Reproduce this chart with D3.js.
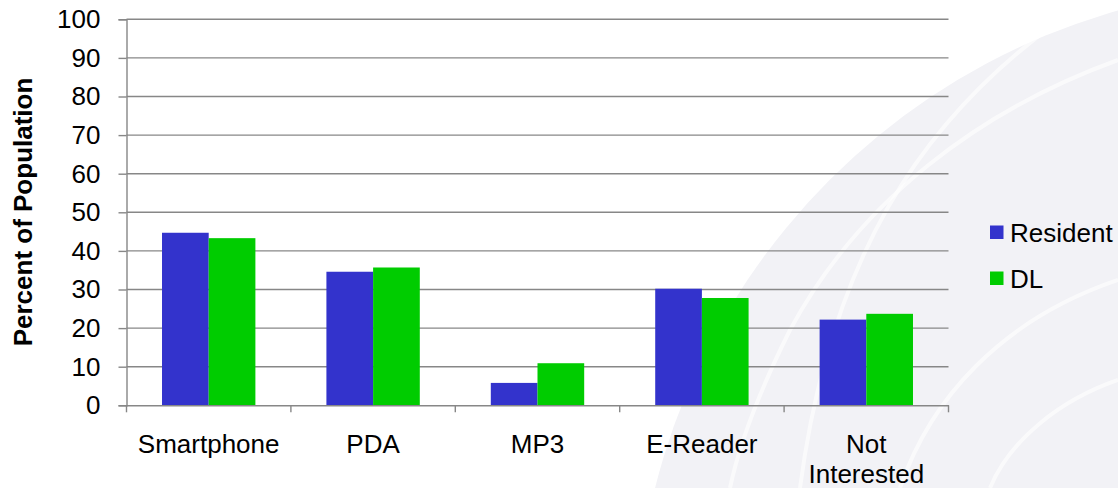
<!DOCTYPE html>
<html><head><meta charset="utf-8">
<script src="https://cdn.jsdelivr.net/npm/d3@7"></script>
<style>
html,body{margin:0;padding:0;background:#fff;}
svg{display:block;font-family:"Liberation Sans",Arial,sans-serif;}
</style></head>
<body>
<svg id="chart" width="1118" height="488"></svg>
<script>
const categories = ["Smartphone", "PDA", "MP3", "E-Reader", "Not Interested"];
const seriesNames = ["Resident", "DL"];
const residentValues = [44.7, 34.6, 5.8, 30.2, 22.2];
const dlValues = [43.3, 35.7, 10.9, 27.8, 23.7];
const yTicks = [0, 10, 20, 30, 40, 50, 60, 70, 80, 90, 100];
const colors = ["#3333CC", "#00CC00"];

const svg = d3.select("#chart");
const m = {left: 126.5, right: 948.5, top: 19.3, bottom: 405.3};
const FS = 26;

// faint globe watermark
const bg = svg.append("g");
bg.append("circle").attr("cx", 1300).attr("cy", 650).attr("r", 665).attr("fill", "#f2f2f6");
const arcs = [
  "M1118,60 C980,110 860,200 790,330 C760,390 740,440 730,488",
  "M1060,20 C920,120 830,260 800,488",
  "M900,488 C930,400 1000,320 1118,280",
  "M1118,380 C1060,400 1010,440 990,488"
];
bg.selectAll("path.arc").data(arcs).join("path")
  .attr("d", d => d).attr("fill", "none")
  .attr("stroke", "#ffffff").attr("stroke-width", 4).attr("opacity", 0.6);

const x0 = d3.scaleBand().domain(categories).range([m.left, m.right]).paddingInner(0).paddingOuter(0);
const groupFrac = 0.568;
const x1 = d3.scaleBand().domain(seriesNames).range([0, x0.bandwidth() * groupFrac]);
const y = d3.scaleLinear().domain([0, 100]).range([m.bottom, m.top]);

const gridColor = "#878787";

// gridlines
svg.append("g").selectAll("line").data(yTicks.filter(d => d > 0)).join("line")
  .attr("x1", m.left).attr("x2", m.right)
  .attr("y1", d => y(d)).attr("y2", d => y(d))
  .attr("stroke", gridColor).attr("stroke-width", 1.4);

// y axis
const yAxis = svg.append("g").attr("transform", `translate(${m.left},0)`)
  .call(d3.axisLeft(y).tickValues(yTicks).tickSize(8).tickPadding(18));
yAxis.select(".domain").attr("stroke", gridColor).attr("stroke-width", 1.4);
yAxis.selectAll(".tick line").attr("stroke", gridColor).attr("stroke-width", 1.4);
yAxis.selectAll(".tick text").attr("font-size", FS).attr("fill", "#000")
  .attr("font-family", "Liberation Sans, Arial, sans-serif");

// bars
const series = [residentValues, dlValues];
const groups = svg.append("g").selectAll("g").data(categories).join("g")
  .attr("transform", d => `translate(${x0(d) + x0.bandwidth() * (1 - groupFrac) / 2},0)`);
groups.selectAll("rect").data((d, i) => seriesNames.map((s, j) => ({s, v: series[j][i], j})))
  .join("rect")
  .attr("x", d => x1(d.s)).attr("width", x1.bandwidth())
  .attr("y", d => y(d.v)).attr("height", d => y(0) - y(d.v))
  .attr("fill", d => colors[d.j]);

// x axis
const xAxis = svg.append("g").attr("transform", `translate(0,${m.bottom})`)
  .call(d3.axisBottom(x0).tickSize(0).tickFormat(""));
xAxis.select(".domain").attr("stroke", gridColor).attr("stroke-width", 1.4);
const bounds = categories.map(c => x0(c)).concat([m.right]);
svg.append("g").selectAll("line").data(bounds).join("line")
  .attr("x1", d => d).attr("x2", d => d)
  .attr("y1", m.bottom).attr("y2", m.bottom + 7)
  .attr("stroke", gridColor).attr("stroke-width", 1.4);

// category labels
const labelLines = {"Not Interested": ["Not", "Interested"]};
const lab = svg.append("g").selectAll("text").data(categories).join("text")
  .attr("x", d => x0(d) + x0.bandwidth() / 2)
  .attr("y", 453)
  .attr("text-anchor", "middle").attr("font-size", FS).attr("fill", "#000");
lab.each(function(d) {
  const lines = labelLines[d] || [d];
  const t = d3.select(this);
  lines.forEach((ln, i) => {
    t.append("tspan").attr("x", x0(d) + x0.bandwidth() / 2).attr("dy", i === 0 ? 0 : 30).text(ln);
  });
});

// y title
svg.append("text")
  .attr("transform", "translate(23,212) rotate(-90)")
  .attr("text-anchor", "middle").attr("dominant-baseline", "central")
  .attr("font-size", FS).attr("font-weight", "bold").attr("fill", "#000")
  .text("Percent of Population");

// legend
const legend = svg.append("g").selectAll("g").data(seriesNames).join("g")
  .attr("transform", (d, i) => `translate(990,${225.5 + i * 46})`);
legend.append("rect").attr("width", 13.5).attr("height", 13.5).attr("fill", (d, i) => colors[i]);
legend.append("text").attr("x", 20).attr("y", 7).attr("dominant-baseline", "central")
  .attr("font-size", FS).attr("fill", "#000").text(d => d);
</script>
</body></html>
